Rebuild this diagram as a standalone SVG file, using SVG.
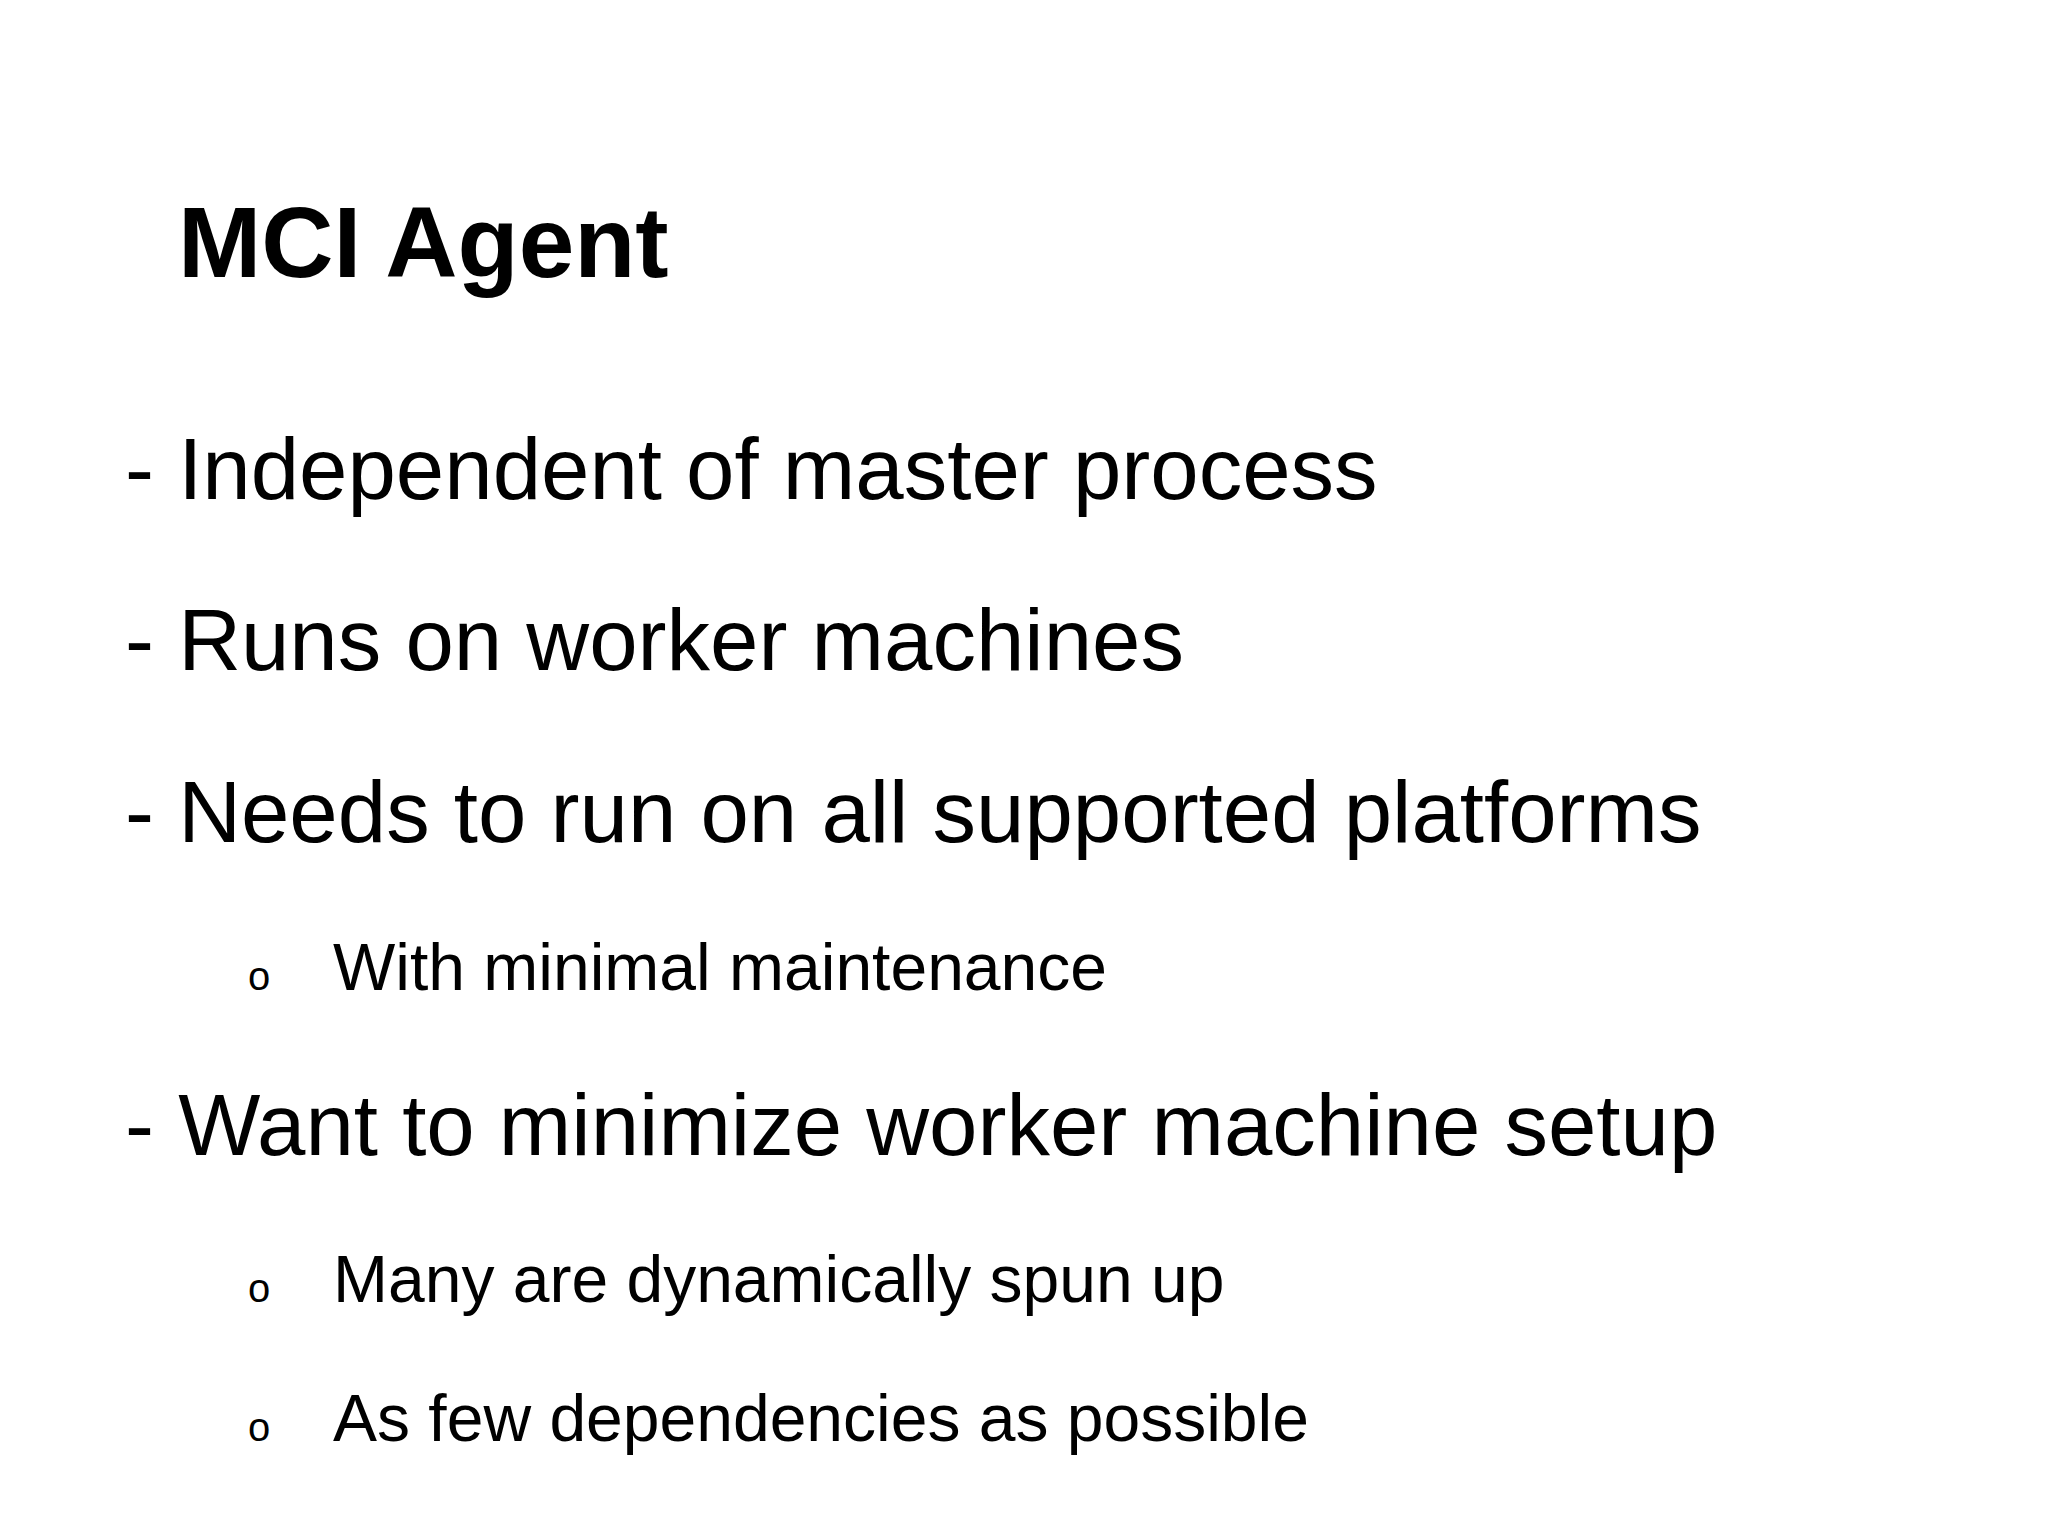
<svg xmlns="http://www.w3.org/2000/svg" width="2048" height="1536" viewBox="0 0 2048 1536">
<style>
text{font-family:"Liberation Sans",Arial,sans-serif;fill:#000}
.t{font-size:100px;font-weight:bold}
.b{font-size:87px}
.s{font-size:66px}
.o{font-size:40px}
</style>
<rect width="2048" height="1536" fill="#fff"/>
<text class="t" x="178" y="277">MCI Agent</text>
<text class="b" x="125" y="499">- Independent of master process</text>
<text class="b" x="125" y="670">- Runs on worker machines</text>
<text class="b" x="125" y="842">- Needs to run on all supported platforms</text>
<text class="o" x="248" y="990">o</text>
<text class="s" x="333" y="990">With minimal maintenance</text>
<text class="b" x="125" y="1155">- Want to minimize worker machine setup</text>
<text class="o" x="248" y="1302">o</text>
<text class="s" x="333" y="1302">Many are dynamically spun up</text>
<text class="o" x="248" y="1441">o</text>
<text class="s" x="333" y="1441">As few dependencies as possible</text>
</svg>
